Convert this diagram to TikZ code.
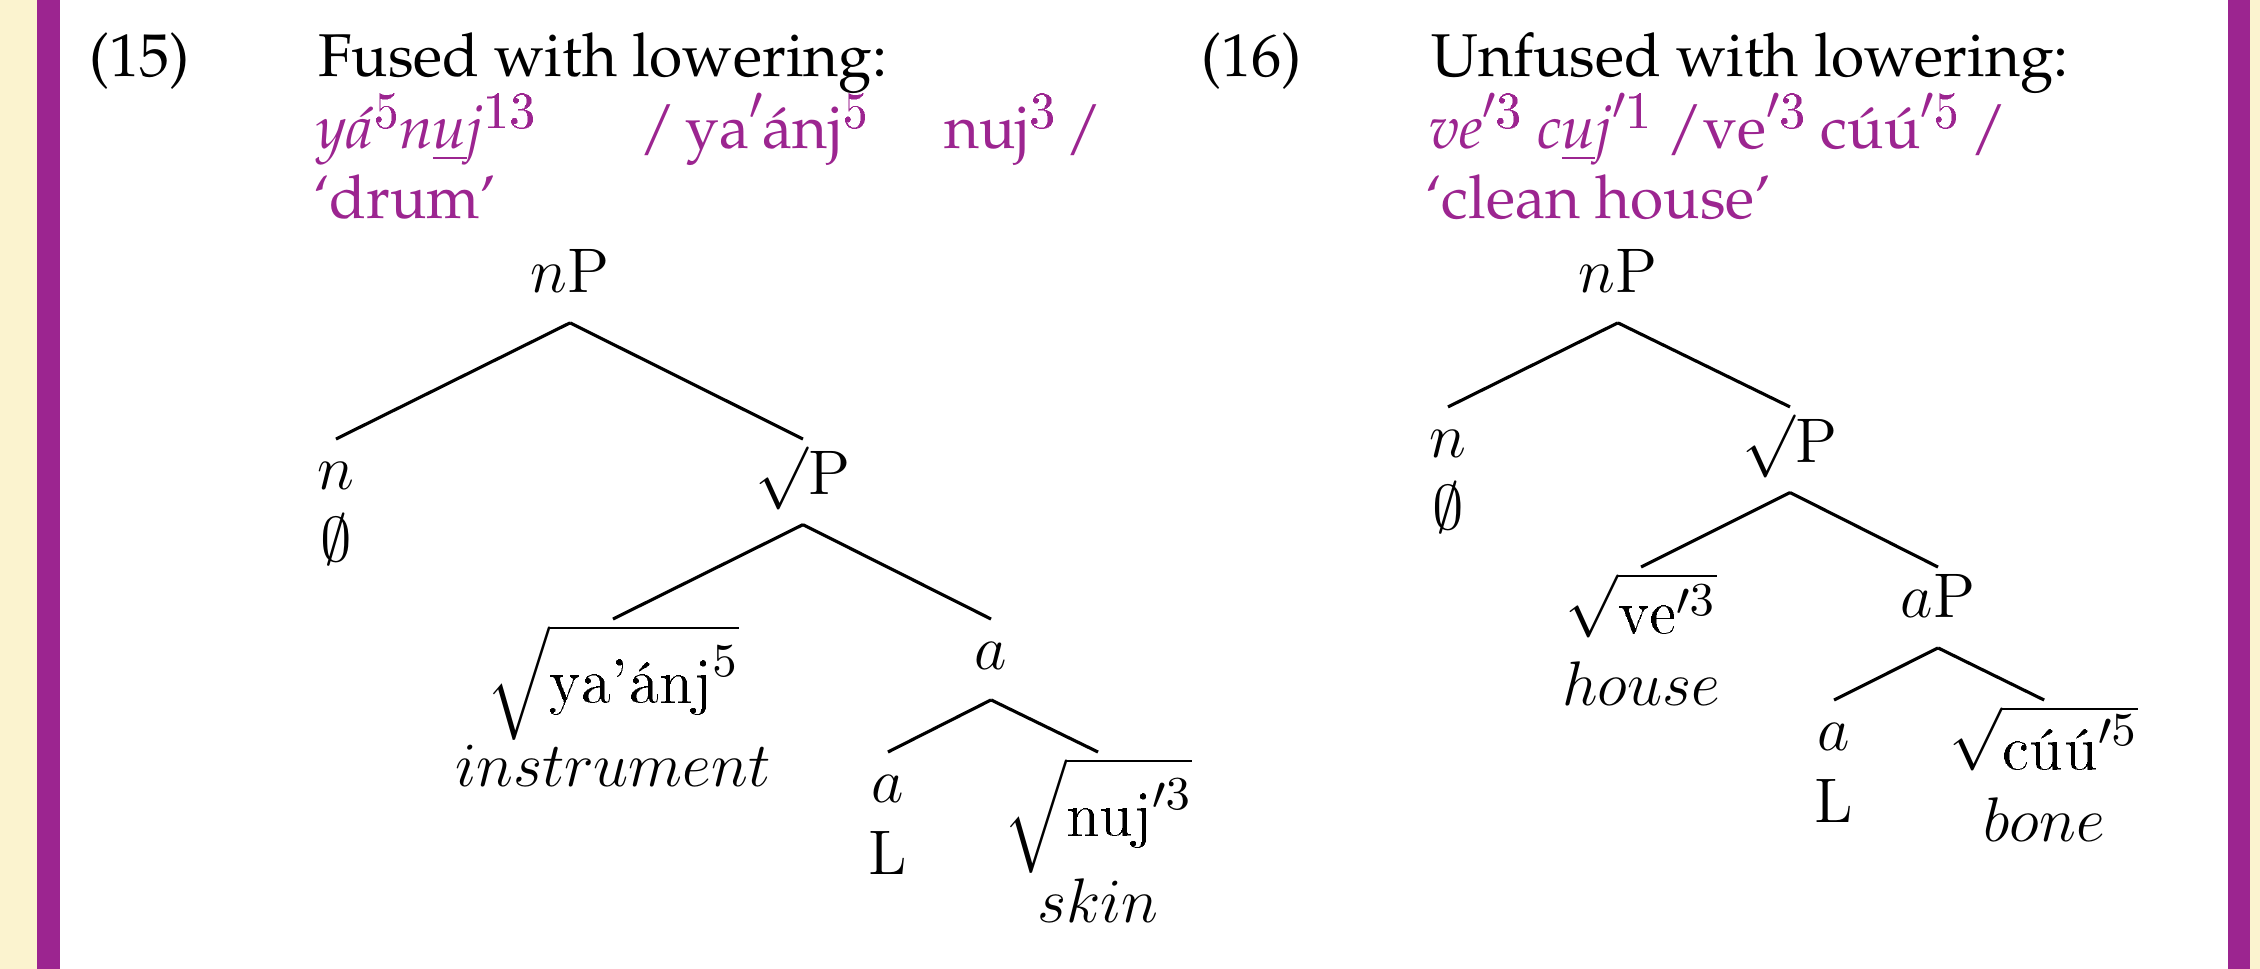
\documentclass[tikz,border=0pt]{standalone}
\usepackage[T1]{fontenc}
\usepackage{amsmath}
\renewcommand{\rmdefault}{ppl}
\definecolor{plum}{HTML}{9C2590}
\definecolor{cream}{HTML}{FBF3CF}
\newcommand{\tstrut}{\rule[-4.7pt]{0pt}{13.4pt}}
\newcommand{\rstrut}{\rule[-4.6pt]{0pt}{14.2pt}}
\newcommand{\lmtxt}[1]{\text{\fontfamily{lmr}\selectfont #1}}
\newcommand{\hsup}[1]{\raisebox{4pt}{\fontfamily{lmr}\fontsize{10}{10}\selectfont #1}}
\newcommand{\hprime}{\raisebox{1.6pt}{\fontsize{9}{9}\selectfont$\prime$}}
\newcommand{\rootP}{\sqrt{\vphantom{x}}\mathrm{P}}
\tikzset{
  headtxt/.style={anchor=base west,inner sep=0pt,
                  font=\fontsize{11.5}{13.6}\selectfont},
  gloss/.style={headtxt,text=plum},
  tnode/.style={anchor=north,inner sep=0.8pt,align=center,
                font=\fontsize{12.5}{13.7}\selectfont},
  branch/.style={line width=0.6pt},
}
\begin{document}
\begin{tikzpicture}
  \useasboundingbox (0,0) rectangle (15.128,-6.486);
  % side bands
  \fill[cream] (0,0) rectangle (0.248,-6.486);
  \fill[plum] (0.248,0) rectangle (0.402,-6.486);
  \fill[plum] (14.914,0) rectangle (15.061,-6.486);
  \fill[cream] (15.061,0) rectangle (15.128,-6.486);

  % example (15)
  \node[headtxt] (num15) at (0.589,-0.515) {(15)};
  \node[headtxt] (ttl15) at (2.122,-0.515) {Fused with lowering:};
  \node[gloss] (sf15) at (2.109,-0.994)
    {\textit{y\'a}\hsup{5}\textit{n\underline{u}j}\hsup{13}};
  \node[gloss] (ur15a) at (4.271,-0.994) {/\,ya\hsup{\hprime}\'anj\hsup{5}};
  \node[gloss] (ur15b) at (6.312,-0.994) {nuj\hsup{3}\,/};
  \node[gloss] (tr15) at (2.089,-1.466) {`drum'};

  \node[tnode,anchor=base] (np15) at (3.816,-1.961) {$n\mathrm{P}$\tstrut};
  \node[tnode] (n15) at (2.249,-2.939) {$n$\tstrut\\$\emptyset$};
  \node[tnode] (rp15) at (5.375,-2.939) {$\rootP$\tstrut};
  \node[tnode] (rt15) at (4.103,-4.144)
    {$\sqrt{\rstrut\lmtxt{ya'\'anj}^5}$\\$instrument$};
  \node[tnode] (a15) at (6.634,-4.144) {$a$\tstrut};
  \node[tnode] (al15) at (5.944,-5.034) {$a$\tstrut\\$\mathrm{L}$};
  \node[tnode] (rn15) at (7.350,-5.034)
    {$\sqrt{\rstrut\lmtxt{nuj}'^3}$\\$skin$};

  % example (16)
  \node[headtxt] (num16) at (8.033,-0.515) {(16)};
  \node[headtxt] (ttl16) at (9.572,-0.515) {Unfused with lowering:};
  \node[gloss] (sf16) at (9.559,-0.994)
    {\textit{ve}\hsup{\hprime3} \textit{c\underline{u}j}\hsup{\hprime1}
     /ve\hsup{\hprime3} c\'u\'u\hsup{\hprime5}\,/};
  \node[gloss] (tr16) at (9.532,-1.466) {`clean house'};

  \node[tnode,anchor=base] (np16) at (10.83,-1.961) {$n\mathrm{P}$\tstrut};
  \node[tnode] (n16) at (9.693,-2.724) {$n$\tstrut\\$\emptyset$};
  \node[tnode] (rp16) at (11.982,-2.724) {$\rootP$\tstrut};
  \node[tnode] (rv16) at (10.985,-3.796)
    {$\sqrt{\lmtxt{ve}'^3}$\tstrut\\$house$};
  \node[tnode] (ap16) at (12.973,-3.796) {$a\mathrm{P}$\tstrut};
  \node[tnode] (al16) at (12.277,-4.686) {$a$\tstrut\\$\mathrm{L}$};
  \node[tnode] (rc16) at (13.683,-4.686)
    {$\sqrt{\lmtxt{c\'u\'u}'^5}$\tstrut\\$bone$};

  \foreach \p/\c in {np15/n15,np15/rp15,rp15/rt15,rp15/a15,a15/al15,
                     a15/rn15,np16/n16,np16/rp16,rp16/rv16,rp16/ap16,
                     ap16/al16,ap16/rc16}
    \draw[branch] (\p.south) -- (\c.north);
\end{tikzpicture}
\end{document}
